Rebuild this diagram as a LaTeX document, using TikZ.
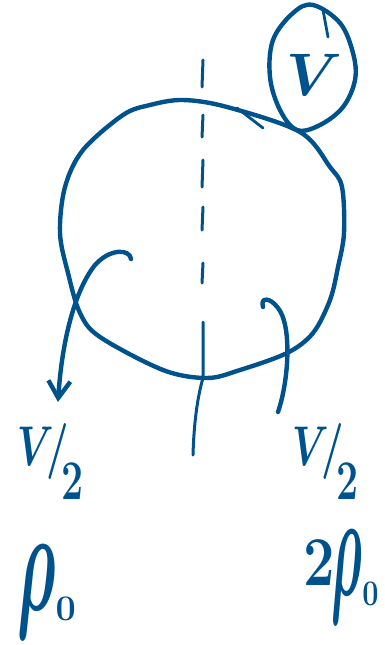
\RequirePackage{fix-cm}
\documentclass[tikz,border=0pt]{standalone}
\usepackage{graphicx}
\usetikzlibrary{arrows.meta}
\definecolor{cInk}{RGB}{0,82,140}
\tikzset{
	pen/.style={draw=cInk, line width=4.4pt, line cap=round, line join=round},
	penthin/.style={draw=cInk, line width=2.8pt, line cap=round},
	axisdash/.style={draw=cInk, line width=3pt, line cap=round},
	lbl/.style={inner sep=0pt, text=cInk, anchor=north west, font=\boldmath},
	flow/.style={pen, -{Straight Barb[length=17pt, width=22pt]}},
}
\newcommand{\halfvol}{\fontsize{56}{56}\selectfont\scalebox{0.7}[1]{$V\!/\!\raisebox{-34pt}{$2$}$}}
\newcommand{\dens}{{\fontsize{70}{70}\selectfont\scalebox{0.9}[2.1]{$\rho$}}\raisebox{-10pt}{\fontsize{36}{36}\selectfont$0$}}

\begin{document}
\begin{tikzpicture}[x=1pt, y=-1pt]
	\useasboundingbox (0,0) rectangle (385,645);
	% big vessel
	\draw[pen] plot[smooth cycle, tension=0.55] coordinates {
		(183,100) (227,107) (300,132) (330,167) (342,187) (344,233) (338,267)
		(330,300) (313,333) (287,353) (240,370) (207,378) (163,370) (100,337)
		(80,313) (68,273) (60,233) (65,187) (83,150) (123,115) (150,105)};
	\draw[penthin] (237,108) -- (263,128);
	% small circle with V
	\draw[pen] plot[smooth cycle, tension=0.6] coordinates {
		(313,5) (340,23) (353,53) (355,80) (343,107) (320,125) (297,130)
		(280,110) (270,77) (273,40) (293,13)};
	\draw[penthin] (323,10) -- (328,37);
	\node[inner sep=0pt, text=cInk, font=\boldmath] (vol) at (314,75) {\fontsize{60}{60}\selectfont$V$};
	% axis
	\foreach \ya/\yb in {60/87,115/137,160/187,207/230,263/283}
		\draw[axisdash] (203,\ya) -- (202,\yb);
	\coordinate (axtop) at (203,322);
	\coordinate (axbot) at (193,455);
	\draw[axisdash] (axtop) -- (203,378) .. controls (198,395) and (194,420) .. (axbot);
	% labels
	\node[lbl] (vl) at (17,423) {\halfvol};
	\node[lbl] (vr) at (292,423) {\halfvol};
	\node[lbl] (rl) at (17,545) {\dens};
	\node[lbl] (rr) at (303,530) {\scalebox{0.8}[1]{{\fontsize{70}{70}\selectfont\raisebox{10pt}{$2$}}\kern-4pt\dens}};
	% flows out
	\coordinate (ls) at (131,259);
	\coordinate (le) at (58,402);
	\coordinate (rs) at (263,307);
	\coordinate (re) at (278,412);
	\draw[flow] (ls) .. controls (130,249) and (110,248) .. (95,265) .. controls (75,290) and (62,340) .. (le);
	\draw[pen] (rs) .. controls (260,297) and (270,297) .. (278,308) .. controls (292,325) and (289,380) .. (re);
\end{tikzpicture}
\end{document}
